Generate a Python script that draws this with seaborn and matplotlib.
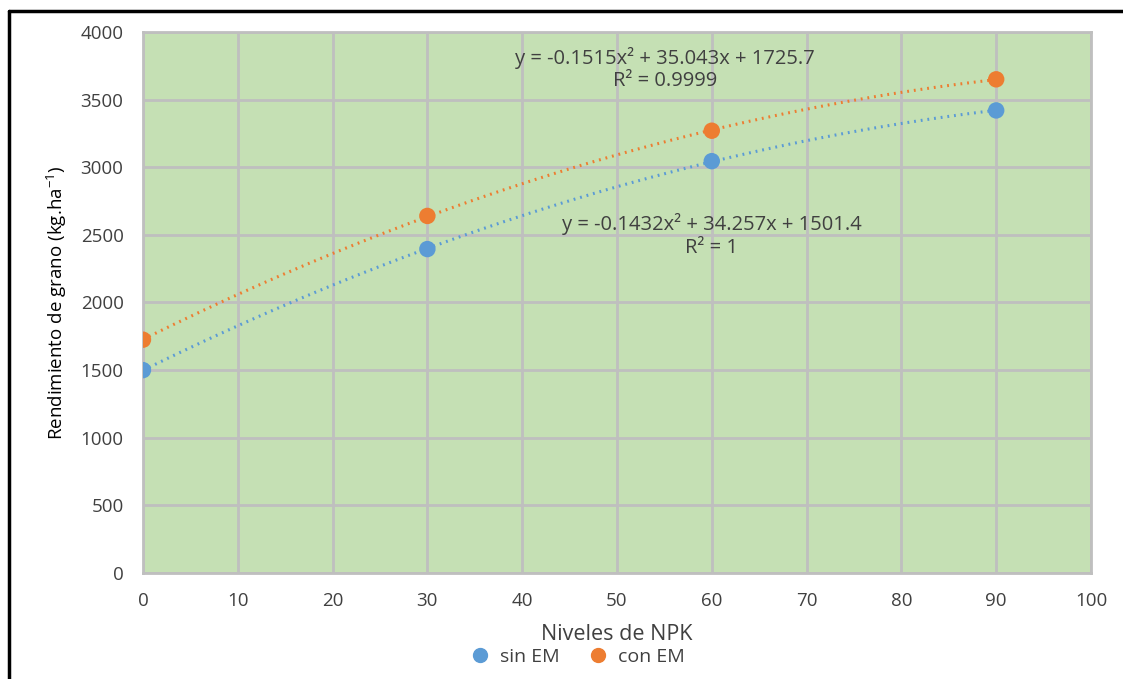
import matplotlib
matplotlib.use("Agg")
import matplotlib.pyplot as plt
import seaborn as sns
import pandas as pd
import numpy as np
from matplotlib.lines import Line2D

niveles = [0, 30, 60, 90]
sin_em = [1500, 2395, 3045, 3420]
con_em = [1725, 2640, 3270, 3650]
series_names = ["sin EM", "con EM"]
colors = ["#5B9BD5", "#ED7D31"]
eq_sin = ["y = -0.1432x² + 34.257x + 1501.4", "R² = 1"]
eq_con = ["y = -0.1515x² + 35.043x + 1725.7", "R² = 0.9999"]

df = pd.DataFrame({
    "NPK": niveles * 2,
    "Rend": sin_em + con_em,
    "Serie": [series_names[0]] * 4 + [series_names[1]] * 4,
})

sns.set_style("white")
plt.rcParams["font.family"] = ["Open Sans", "DejaVu Sans"]
text_col = "#404040"

fig = plt.figure(figsize=(11.23, 6.79), dpi=100)
ax = fig.add_axes([0.1273, 0.1561, 0.8442, 0.7968])
ax.set_facecolor("#C5E0B4")

for name, col in zip(series_names, colors):
    sub = df[df["Serie"] == name]
    sns.regplot(data=sub, x="NPK", y="Rend", order=2, ci=None, scatter=False,
                truncate=True, ax=ax,
                line_kws=dict(color=col, lw=2.2, ls=(0, (0.6, 1.6)), zorder=3))

sns.scatterplot(data=df, x="NPK", y="Rend", hue="Serie", palette=colors,
                s=140, edgecolor="none", ax=ax, zorder=4, legend=False)

ax.set_xlim(0, 100)
ax.set_ylim(0, 4000)
ax.set_xticks(np.arange(0, 101, 10))
ax.set_yticks(np.arange(0, 4001, 500))
ax.grid(True, color="#BFBFBF", lw=2)
ax.set_axisbelow(True)
for sp in ax.spines.values():
    sp.set_visible(True)
    sp.set_color("#BFBFBF")
    sp.set_linewidth(2)
ax.tick_params(axis="both", length=0, labelsize=13.5, colors=text_col)
ax.tick_params(axis="y", pad=14)
ax.tick_params(axis="x", pad=14)
ax.set_xlabel("Niveles de NPK", fontsize=15.5, color=text_col, labelpad=10)
ax.set_ylabel("Rendimiento de grano (kg.ha$^{\\mathregular{-1}}$)", fontsize=13.5,
              color="black", labelpad=8)

ax.text(55.1, 3808, eq_con[0], ha="center", va="center", fontsize=14.5, color=text_col)
ax.text(55.1, 3638, eq_con[1], ha="center", va="center", fontsize=14.5, color=text_col)
ax.text(60.0, 2580, eq_sin[0], ha="center", va="center", fontsize=14.5, color=text_col)
ax.text(60.0, 2403, eq_sin[1], ha="center", va="center", fontsize=14.5, color=text_col)

handles = [Line2D([], [], marker="o", ls="none", markersize=10, color=c) for c in colors]
fig.legend(handles, series_names, loc="center", bbox_to_anchor=(0.51, 0.032),
           ncol=2, frameon=False, fontsize=14, handletextpad=0.0,
           columnspacing=1.0, labelcolor=text_col)

fig.add_artist(Line2D([0.008, 0.008], [0.0, 0.984], color="black", lw=2.5))
fig.add_artist(Line2D([0.008, 1.0], [0.984, 0.984], color="black", lw=2.5))

fig.savefig("out.png", dpi=100, facecolor="white")
